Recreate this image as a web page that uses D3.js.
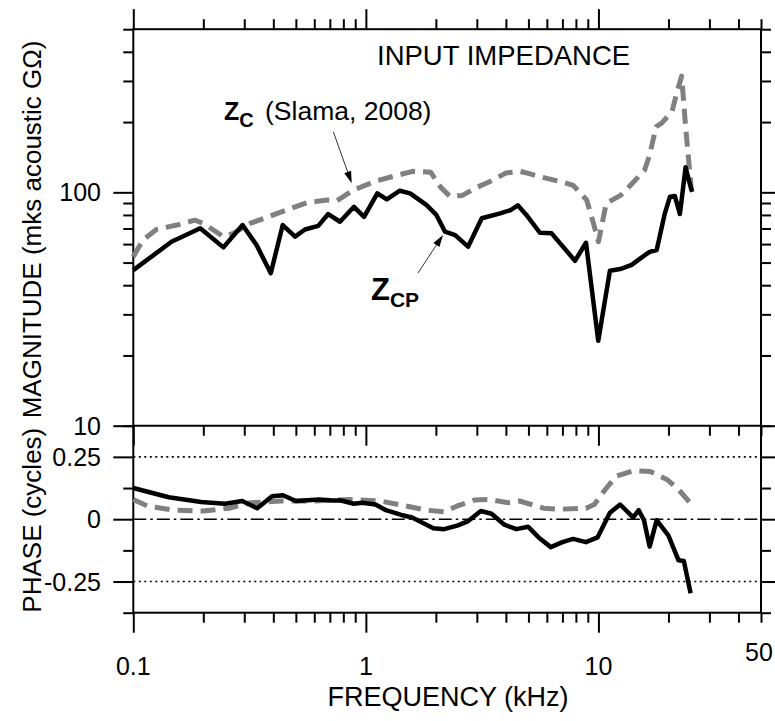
<!DOCTYPE html>
<html><head><meta charset="utf-8">
<script src="https://cdn.jsdelivr.net/npm/d3@7"></script>
<style>body{margin:0;background:#fff} text{font-family:"Liberation Sans",Arial,Helvetica,sans-serif;fill:#000}</style>
</head><body><svg id="c" width="775" height="721"></svg>
<script>
// ---- data (frequency in kHz) ----
const freqCP = [0.1,0.146,0.194,0.244,0.295,0.339,0.39,0.439,0.496,0.547,0.624,0.689,0.774,0.889,0.982,1.12,1.23,1.40,1.55,1.82,2.01,2.19,2.42,2.75,3.15,3.78,4.2,4.5,4.9,5.6,6.29,7.93,8.84,9.98,11.2,12.4,13.9,15.3,16.6,17.8,19.3,20.3,21.3,22.4,23.7,24.5,25.3];
const magCP  = [46.4,61.4,70.2,58.1,72.4,59.4,45.0,72.4,64.6,69.3,71.8,80.7,74.8,86.7,78.5,99,93.3,101.6,99,88.3,80,67.8,65.6,58.5,77.4,81.3,84,88,80,67.1,66.7,50.9,60.8,23.1,46.1,46.9,48.9,52.5,55.6,56.6,81.3,95.7,96.5,80.7,128,112,100.5];
const freqC  = [0.1,0.11,0.126,0.154,0.184,0.2,0.244,0.269,0.318,0.374,0.456,0.556,0.68,0.75,0.88,1.11,1.31,1.59,1.9,2.1,2.3,2.6,3.0,3.4,4.0,4.6,5.1,5.6,6.9,7.8,8.9,9.3,10.0,10.8,12.5,13.9,15.8,16.6,17.7,18.7,20.7,21.7,22.8,23.7,25.1];
const magC   = [53,62.5,69.4,72.4,76,73.6,64.6,66.7,73.6,78.1,84,90.2,92.7,92,102,112,117,123,122,105,96,97,105,111,121,123,120,116.6,111,107,92.7,80,61.4,89.7,97.3,108.5,124.6,144.6,191,198,221,266,315,191,102];
const phFreqCP = [0.1,0.142,0.196,0.248,0.294,0.341,0.395,0.44,0.5,0.631,0.717,0.782,0.888,0.967,1.10,1.22,1.42,1.58,1.95,2.17,2.47,2.74,3.12,3.47,3.94,4.44,4.98,5.53,6.24,7.0,7.78,8.84,9.91,11.2,12.4,14.1,14.9,15.7,16.6,17.8,20.0,22.1,23.3,24.9];
const phaseCP  = [0.125,0.088,0.069,0.062,0.073,0.044,0.092,0.096,0.073,0.079,0.075,0.075,0.062,0.066,0.059,0.036,0.017,0.007,-0.036,-0.040,-0.026,-0.009,0.033,0.022,-0.022,-0.040,-0.030,-0.073,-0.112,-0.092,-0.079,-0.092,-0.073,0.026,0.059,0.007,0.036,-0.004,-0.110,-0.004,-0.066,-0.165,-0.168,-0.297];
const phFreqC = [0.1,0.115,0.149,0.2,0.258,0.32,0.43,0.605,0.85,1.15,1.42,1.83,2.17,2.47,2.93,3.39,4.1,4.58,5.8,6.85,8.84,9.6,10.7,11.9,14.1,16.7,19.8,22.1,25.0];
const phaseC  = [0.079,0.053,0.036,0.033,0.044,0.066,0.073,0.073,0.079,0.073,0.057,0.036,0.030,0.053,0.077,0.079,0.066,0.073,0.044,0.040,0.044,0.059,0.119,0.172,0.194,0.191,0.158,0.119,0.062];

const xMajor = [0.1,1,10];
const xMinor = [0.2,0.3,0.4,0.5,0.6,0.7,0.8,0.9,2,3,4,5,6,7,8,9,20,30,40,50];
const xLabelVals = [0.1,1,10];
const xLabelText = ["0.1","1","10"];
const xEndLabel = ["50"];
const magMajor = [10,100];
const magMinor = [20,30,40,50,60,70,80,90,200,300,400,500];
const magLabelText = ["10","100"];
const phMajor = [-0.25,0,0.25];
const phMinor = [-0.375,-0.125,0.125,0.375];
const phLabelText = ["-0.25","0","0.25"];

// ---- layout ----
const L=133.3, R=761, T=29.2, M=425.7, B=612.7;
const svg = d3.select("#c");
const x = d3.scaleLog().domain([0.1,50]).range([L,R]);
const yM = d3.scaleLog().domain([10,500]).range([M,T]);
const yP = d3.scaleLinear().domain([-0.375,0.375]).range([B,M]);

function ax(gen, vals, size, tx, ty){
  const g = svg.append("g").attr("transform",`translate(${tx},${ty})`)
    .call(gen.tickValues(vals).tickSize(size).tickSizeOuter(0).tickFormat(""));
  g.select(".domain").remove();
  g.selectAll("line").attr("stroke","#000").attr("stroke-width",2);
}
// x axes
ax(d3.axisTop(x), xMajor, 20, 0, T); ax(d3.axisTop(x), xMinor, 10, 0, T);
ax(d3.axisBottom(x), xMajor, 20, 0, M); ax(d3.axisBottom(x), xMinor, 10, 0, M);
ax(d3.axisBottom(x), xMajor, 20, 0, B); ax(d3.axisBottom(x), xMinor, 10, 0, B);
// y axes
ax(d3.axisLeft(yM), magMajor, 20, L, 0); ax(d3.axisLeft(yM), magMinor, 10, L, 0);
ax(d3.axisRight(yM), magMajor, 20, R, 0); ax(d3.axisRight(yM), magMinor, 10, R, 0);
ax(d3.axisLeft(yP), phMajor, 20, L, 0); ax(d3.axisLeft(yP), phMinor, 10, L, 0);
ax(d3.axisRight(yP), phMajor, 20, R, 0); ax(d3.axisRight(yP), phMinor, 10, R, 0);

// frame
svg.append("rect").attr("x",L).attr("y",T).attr("width",R-L).attr("height",B-T)
  .attr("fill","none").attr("stroke","#000").attr("stroke-width",2);
svg.append("line").attr("x1",L).attr("x2",R).attr("y1",M).attr("y2",M).attr("stroke","#000").attr("stroke-width",2);

// reference lines in phase panel
[0.25,-0.25].forEach(v=>svg.append("line").attr("x1",L).attr("x2",R).attr("y1",yP(v)).attr("y2",yP(v))
  .attr("stroke","#000").attr("stroke-width",1.6).attr("stroke-dasharray","2,3.5"));
svg.append("line").attr("x1",L).attr("x2",R).attr("y1",yP(0)).attr("y2",yP(0))
  .attr("stroke","#000").attr("stroke-width",1.6).attr("stroke-dasharray","13,4,2.5,4");

// tick labels
const fs = 25;
magMajor.forEach((v,i)=>svg.append("text").attr("x",101).attr("y",yM(v)).attr("dy","0.36em")
  .attr("text-anchor","end").attr("font-size",fs).text(magLabelText[i]));
phMajor.forEach((v,i)=>svg.append("text").attr("x",101).attr("y",yP(v)).attr("dy","0.36em")
  .attr("text-anchor","end").attr("font-size",fs).text(phLabelText[i]));
xLabelVals.forEach((v,i)=>svg.append("text").attr("x",x(v)).attr("y",675)
  .attr("text-anchor","middle").attr("font-size",fs).text(xLabelText[i]));
svg.append("text").attr("x",x(50)-2).attr("y",661).attr("text-anchor","middle").attr("font-size",fs).text(xEndLabel[0]);

// axis titles
svg.append("text").attr("transform",`translate(41,${(T+M)/2+2}) rotate(-90)`).attr("text-anchor","middle")
  .attr("font-size",26).text("MAGNITUDE (mks acoustic GΩ)");
svg.append("text").attr("transform",`translate(41,${(M+B)/2+1}) rotate(-90)`).attr("text-anchor","middle")
  .attr("font-size",26).text("PHASE (cycles)");
svg.append("text").attr("x",448).attr("y",706).attr("text-anchor","middle").attr("font-size",27).text("FREQUENCY (kHz)");
svg.append("text").attr("x",377).attr("y",65).attr("font-size",27.5).text("INPUT IMPEDANCE");

// curves
const zip = (a,b)=>a.map((v,i)=>[v,b[i]]);
const lineM = d3.line().x(d=>x(d[0])).y(d=>yM(d[1]));
const lineP = d3.line().x(d=>x(d[0])).y(d=>yP(d[1]));
const gray = "#808080";
svg.append("path").attr("d",lineM(zip(freqC,magC))).attr("fill","none").attr("stroke",gray)
  .attr("stroke-width",5).attr("stroke-dasharray","15,8").attr("stroke-linejoin","round");
svg.append("path").attr("d",lineP(zip(phFreqC,phaseC))).attr("fill","none").attr("stroke",gray)
  .attr("stroke-width",5).attr("stroke-dasharray","15,8").attr("stroke-linejoin","round");
svg.append("path").attr("d",lineM(zip(freqCP,magCP))).attr("fill","none").attr("stroke","#000")
  .attr("stroke-width",4.5).attr("stroke-linejoin","round");
svg.append("path").attr("d",lineP(zip(phFreqCP,phaseCP))).attr("fill","none").attr("stroke","#000")
  .attr("stroke-width",4.5).attr("stroke-linejoin","round");

// annotations
function arrow(sx,sy,tx,ty){
  const dx=tx-sx, dy=ty-sy, len=Math.hypot(dx,dy), ux=dx/len, uy=dy/len;
  const Lh=12, w=3.6, bx=tx-ux*Lh, by=ty-uy*Lh;
  svg.append("line").attr("x1",sx).attr("y1",sy).attr("x2",bx).attr("y2",by).attr("stroke","#333").attr("stroke-width",1);
  svg.append("path").attr("d",`M${tx},${ty}L${bx-uy*w},${by+ux*w}L${bx+uy*w},${by-ux*w}Z`).attr("fill","#000");
}
const zc = svg.append("text").attr("x",224).attr("y",120);
zc.append("tspan").attr("font-weight","bold").attr("font-size",25).text("Z");
zc.append("tspan").attr("font-weight","bold").attr("font-size",20).attr("dy",7).text("C");
svg.append("text").attr("x",265).attr("y",120).attr("font-size",26.5).text("(Slama, 2008)");
arrow(333.3,131.7,351.7,183.3);
const zcp = svg.append("text").attr("x",371).attr("y",300);
zcp.append("tspan").attr("font-weight","bold").attr("font-size",31).text("Z");
zcp.append("tspan").attr("font-weight","bold").attr("font-size",21).attr("dy",7).text("CP");
arrow(418,273,443,235);
</script></body></html>
